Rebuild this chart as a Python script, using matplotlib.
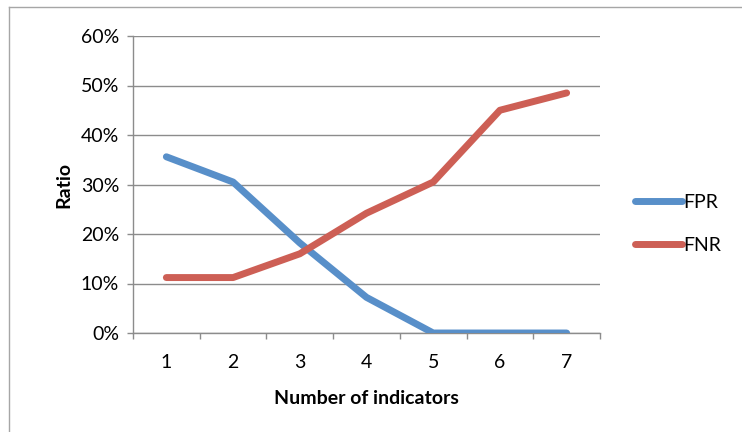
import matplotlib.pyplot as plt
from matplotlib.lines import Line2D
from matplotlib.ticker import FuncFormatter, FixedLocator

# ─── Veri ─────────────────────────────────────────────────────────────────────
indicators = [1, 2, 3, 4, 5, 6, 7]
fpr = [0.356, 0.305, 0.182, 0.072, 0.0, 0.0, 0.0]
fnr = [0.112, 0.112, 0.160, 0.242, 0.305, 0.450, 0.485]
series_names = ["FPR", "FNR"]

BLUE = "#588FC9"
RED = "#CD5F55"
GRAY = "#8C8C8C"
FS = 14

plt.rcParams["font.family"] = ["Lato", "DejaVu Sans"]

fig = plt.figure(figsize=(7.42, 4.32), dpi=100)
ax = fig.add_axes([133 / 742, 1 - 333 / 432, (600 - 133) / 742, (333 - 36) / 432])

ax.plot(indicators, fpr, color=BLUE, linewidth=5.0, solid_capstyle="round",
        solid_joinstyle="round", label=series_names[0], zorder=3)
ax.plot(indicators, fnr, color=RED, linewidth=5.0, solid_capstyle="round",
        solid_joinstyle="round", label=series_names[1], zorder=3)

ax.set_xlim(0.5, 7.5)
ax.set_ylim(0, 0.6)
ax.set_yticks([i / 10 for i in range(7)])
ax.yaxis.set_major_formatter(FuncFormatter(lambda v, _: f"{v * 100:.0f}%"))
ax.grid(True, axis="y", color=GRAY, linewidth=1.0)
ax.set_axisbelow(True)

# x ekseni: etiketler kategori merkezinde, tikler sınırlarda
ax.xaxis.set_major_locator(FixedLocator(indicators))
ax.xaxis.set_minor_locator(FixedLocator([i + 0.5 for i in range(0, 8)]))
ax.tick_params(axis="x", which="major", length=0, pad=15, labelsize=FS)
ax.tick_params(axis="x", which="minor", length=4, color=GRAY, width=1.0)
ax.tick_params(axis="y", length=4, color=GRAY, width=1.0, pad=6, labelsize=FS)

for s in ["top", "right"]:
    ax.spines[s].set_visible(False)
for s in ["left", "bottom"]:
    ax.spines[s].set_color(GRAY)
    ax.spines[s].set_linewidth(1.0)

ax.set_xlabel("Number of indicators", fontsize=FS, fontweight="bold", labelpad=14)
ax.set_ylabel("Ratio", fontsize=FS, fontweight="bold", labelpad=6)

handles = [Line2D([0], [0], color=BLUE, linewidth=5.0, solid_capstyle="round"),
           Line2D([0], [0], color=RED, linewidth=5.0, solid_capstyle="round")]
fig.legend(handles, series_names, loc="center left", bbox_to_anchor=(635 / 742, 1 - 224 / 432),
           frameon=False, fontsize=FS, handlelength=2.4, handletextpad=0.1,
           labelspacing=1.35, borderaxespad=0, borderpad=0)

# grafik çerçevesi
fig.add_artist(Line2D([9 / 742, 1], [1 - 7 / 432, 1 - 7 / 432], color="#A6A6A6", linewidth=1.0))
fig.add_artist(Line2D([9 / 742, 9 / 742], [0, 1 - 7 / 432], color="#A6A6A6", linewidth=1.0))

fig.savefig("out.png", dpi=100)
